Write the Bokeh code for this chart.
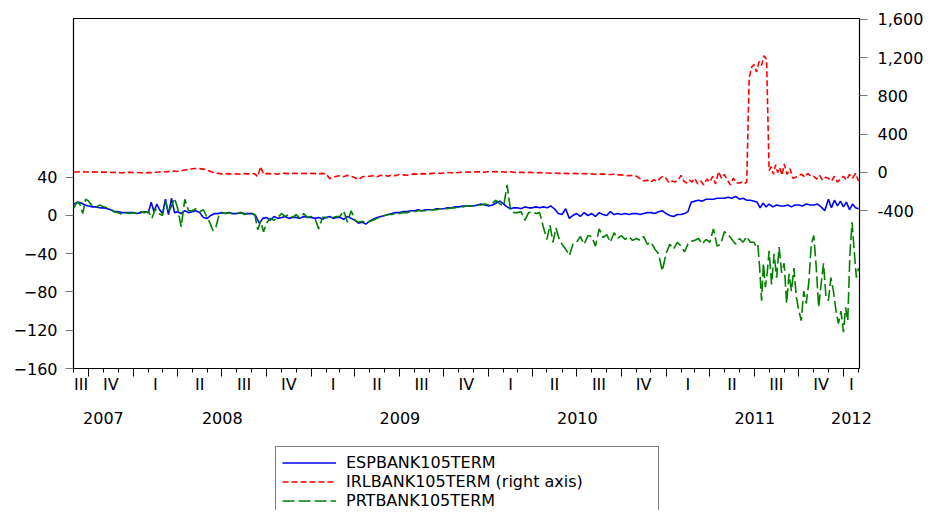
import pandas as pd
from bokeh.plotting import figure
from bokeh.layouts import column
from bokeh.models import (Range1d, LinearAxis, FixedTicker, CustomJSTickFormatter,
                          NumeralTickFormatter, Legend, LegendItem)
from bokeh.embed import file_html
from bokeh.resources import INLINE

# ---------------- data (grouped by month) ----------------
months = [str(m) for m in pd.period_range("2007-09", "2012-02", freq="M")]

esp = [
    [12, 14, 13, 11], [10, 9, 9, 8], [8, 7, 6, 4], [4, 3, 3, 3],                 # 2007
    [3, 2, 3, 4], [3, 14, 4, 12, 6], [2, 17, 1, 18, 3], [4, 2, 5, 3],             # 2008
    [4, 5, 3, -2], [-3, 0, 2, 2], [3, 2, 3, 2], [2, 3, 2, 2],
    [2, 0, -8, -3], [-2, -5, -1, -3], [-2, -1, -3, -2], [-2, -3, -1, -2],
    [-2, -3, -2, -4], [-2, -1, -3, -2], [-2, -4, -1, -3], [-5, -8, -7, -9],       # 2009
    [-6, -4, -2, -1], [0, 1, 2, 3], [3, 4, 4, 5], [5, 6, 5, 6],
    [6, 6, 7, 7], [7, 8, 8, 9], [9, 10, 10, 10], [10, 11, 12, 11],
    [10, 11, 13, 15], [12, 9, 7, 8], [8, 7, 9, 8], [8, 9, 8, 9],                  # 2010
    [8, 10, 7, 2], [1, 7, -3, 0], [2, -1, 3, 0], [2, -1, 3, 1],
    [0, 4, 1, 2], [1, 2, 1, 2], [2, 1, 2, 3], [3, 2, 4, 5],
    [2, 0, -1, 1], [1, 2, 4, 14], [15, 16, 15, 17], [17, 17, 18, 18],             # 2011
    [18, 19, 18, 20], [17, 18, 16, 16], [15, 14, 8, 13, 9], [12, 9, 11, 10],
    [10, 11, 9, 11], [11, 10, 12, 11], [11, 12, 9, 5], [17, 8, 16, 10, 15],
    [9, 14, 6, 12, 8], [7],                                                       # 2012
]

irl = [
    [5, 5, 8, 6], [5, 6, 5, 3], [4, 2, 0, 2], [0, -5, 0, 2],
    [-2, 0, -3, -5], [0, -3, 2, 5], [8, 5, 12, 15], [10, 18, 25, 30],
    [38, 42, 40, 35], [25, 10, -5, -10], [-15, -12, -15, -18], [-15, -18, -12, -15],
    [-10, -15, -45, 60, -20], [-10, -15, -12, -18], [-8, -10, -12, -10], [-10, -12, -8, -12],
    [-10, -12, -14, -10], [-15, -65, -50, -40], [-35, -45, -30, -40], [-55, -75, -45, -40],
    [-40, -35, -45, -30], [-30, -40, -25, -35], [-20, -25, -30, -20], [-15, -20, -12, -15],
    [-12, -10, -8, -10], [-5, 0, -3, -5], [0, 3, 5, 2], [5, 8, 5, 3],
    [10, 8, 10, 6], [5, 3, 8, 2], [0, 3, -2, 2], [0, -5, -2, -3],
    [-5, -8, -5, -10], [-10, -8, -12, -10], [-12, -15, -12, -14], [-15, -18, -20, -15],
    [-20, -22, -18, -25], [-25, -30, -35, -30], [-40, -65, -90, -80], [-100, -75, -95, -60, -40],
    [-60, -110, -90, -100, -80], [-30, -90, -110, -80, -100], [-60, -120, -90, -130, -70],
    [-100, -40, -120, 10, -60], [-20, -80, -130, -60, -110], [-110, -100, -120, -100, 990, 1100],
    [1130, 1050, 1160, 1120, 1220, 1180], [20, 60, -20, 80, 0, 50, -30],
    [90, -20, 40, -60, -50], [-30, -20, -50, -10, -40], [-40, -70, -30, -80, -50],
    [-60, -90, -40, -100, -70], [-40, -80, -20, -60, -10], [-90],
]

prt = [
    [8, 14, 12, 2, 17], [15, 10, 9, 11], [9, 8, 6, 4], [3, 1, 3, 2],
    [3, 2, 4, 3], [4, -3, 7, 2], [0, 15, 3, 10, 18], [8, -12, 17, 5],
    [5, 7, 4, 6], [-2, -8, -16, -12, 0], [3, 2, 3, 1], [2, 3, 1, 2],
    [2, 1, -15, -6, -17], [-8, -3, -5, -2], [2, -1, 1, -2], [1, -3, 2, -2],
    [-1, -3, -14, -2], [-2, -3, -2, -1], [-1, 5, -7, 5], [-5, -7, -6, -8],
    [-6, -5, -3, -1], [0, 1, 1, 2], [2, 3, 3, 4], [4, 5, 5, 5],
    [6, 6, 6, 7], [7, 7, 8, 8], [9, 9, 10, 10], [10, 11, 11, 12],
    [11, 13, 16, 12], [10, 32, 6, 3], [3, 4, -5, 3], [4, 2, 3, -12],
    [-25, -10, -28, -13, -24], [-30, -35, -42, -30], [-28, -22, -30, -21], [-22, -32, -14, -23],
    [-20, -28, -18, -24], [-21, -25, -22, -26], [-24, -26, -22, -30], [-28, -35, -40, -58],
    [-40, -30, -35, -28], [-32, -38, -30, -27], [-26, -24, -30, -25], [-28, -14, -32, -30],
    [-17, -20, -25, -30], [-24, -28, -22, -28],
    [-28, -32, -30, -55, -89, -50, -75, -60], [-37, -72, -40, -65, -33, -60],
    [-50, -92, -61, -79, -55, -85], [-99, -110, -79, -92, -70, -30],
    [-21, -54, -96, -72, -50, -85], [-89, -65, -79, -99, -113, -100],
    [-122, -96, -110, -40, -7, -37, -65], [-55],
]

series_names = ["ESPBANK105TERM", "IRLBANK105TERM (right axis)", "PRTBANK105TERM"]
left_ticks = [-160, -120, -80, -40, 0, 40]
right_ticks = [-400, 0, 400, 800, 1200, 1600]
roman = ["I", "II", "III", "IV"]
x_start, x_end = "2007-08-31", "2012-02-03"

EPOCH = pd.Timestamp("1970-01-01")


def ms(t):
    return (pd.Timestamp(t) - EPOCH) / pd.Timedelta("1ms")


def expand(groups):
    xs, ys = [], []
    for m, vals in zip(months, groups):
        start = pd.Timestamp(m + "-01")
        end = start + pd.offsets.MonthBegin(1)
        n = len(vals)
        for i, v in enumerate(vals):
            xs.append(ms(start + (end - start) * (i / n)))
            ys.append(v)
    return xs, ys


FONT = "DejaVu Sans"
W = 929
STYLES = [dict(line_color="#0000FF", line_width=1.6),
          dict(line_color="#FF0000", line_width=1.6, line_dash="6 3"),
          dict(line_color="#008000", line_width=1.6, line_dash="12 4")]

x1, y1 = expand(esp)
x2, y2 = expand(irl)
x3, y3 = expand(prt)
XY = [(x1, y1), (x2, y2), (x3, y3)]

# ---------------- main chart ----------------
PH = 446
p = figure(width=W, height=PH, output_backend="svg", toolbar_location=None,
           x_range=Range1d(ms(x_start), ms(x_end)), y_range=Range1d(-160, 206),
           x_axis_location=None, y_axis_location="left",
           min_border_left=73, min_border_right=70, min_border_top=18, min_border_bottom=PH - 368)
p.grid.visible = False
p.outline_line_color = "black"
p.outline_line_width = 1.2
p.background_fill_color = "white"
p.border_fill_color = "white"
p.extra_y_ranges = {"right": Range1d(-2050, 1610)}

p.line(x1, y1, **STYLES[0])
p.line(x2, y2, y_range_name="right", **STYLES[1])
p.line(x3, y3, **STYLES[2])

ya = p.yaxis[0]
ya.ticker = FixedTicker(ticks=left_ticks)
ya.axis_line_color = None
ya.major_tick_out = 8
ya.major_tick_in = 0
ya.major_tick_line_color = "#777777"
ya.minor_tick_line_color = None
ya.major_label_standoff = 8
ya.major_label_text_font = FONT
ya.major_label_text_font_size = "16px"
ya.major_label_text_color = "black"

yr = LinearAxis(y_range_name="right", ticker=FixedTicker(ticks=right_ticks),
                formatter=NumeralTickFormatter(format="0,0"),
                axis_line_color=None, major_tick_out=8, major_tick_in=0,
                major_tick_line_color="#777777", minor_tick_line_color=None,
                major_label_standoff=10, major_label_text_font=FONT,
                major_label_text_font_size="16px", major_label_text_color="black")
p.add_layout(yr, "right")

month_starts = pd.date_range("2007-09-01", "2012-02-01", freq="MS")
q_starts = [ms(d) for d in month_starts if d.month in (1, 4, 7, 10)]
m_starts = [ms(d) for d in month_starts]
xa = LinearAxis(ticker=FixedTicker(ticks=q_starts, minor_ticks=m_starts),
                formatter=CustomJSTickFormatter(code="return ''"),
                axis_line_color=None, major_tick_out=8, major_tick_in=0,
                minor_tick_out=4, minor_tick_in=0,
                major_tick_line_color="black", minor_tick_line_color="black",
                major_label_standoff=0, major_label_text_font_size="0px")
p.add_layout(xa, "below")

lo, hi = pd.Timestamp(x_start), pd.Timestamp(x_end)
q_mid, q_lab = [], []
for qq in pd.period_range("2007Q3", "2012Q1", freq="Q"):
    a = max(qq.start_time, lo)
    b = min(qq.end_time, hi)
    q_mid.append(ms(a + (b - a) / 2))
    q_lab.append(roman[qq.quarter - 1])

y_mid, y_lab = [], []
for yr_ in range(2007, 2013):
    a = max(pd.Timestamp(f"{yr_}-01-01"), lo)
    b = min(pd.Timestamp(f"{yr_ + 1}-01-01"), hi)
    y_mid.append(ms(a + (b - a) / 2))
    y_lab.append(str(yr_))

JS = """
let best = 0, bd = Infinity;
for (let i = 0; i < pos.length; i++) { const d = Math.abs(pos[i] - tick); if (d < bd) { bd = d; best = i; } }
return lab[best];
"""
xb = LinearAxis(ticker=FixedTicker(ticks=q_mid),
                formatter=CustomJSTickFormatter(args=dict(pos=q_mid, lab=q_lab), code=JS),
                axis_line_color=None, major_tick_line_color=None, minor_tick_line_color=None,
                major_label_standoff=-8, major_label_text_font=FONT,
                major_label_text_font_size="16px", major_label_text_color="black")
p.add_layout(xb, "below")

xc = LinearAxis(ticker=FixedTicker(ticks=y_mid),
                formatter=CustomJSTickFormatter(args=dict(pos=y_mid, lab=y_lab), code=JS),
                axis_line_color=None, major_tick_line_color=None, minor_tick_line_color=None,
                major_label_standoff=9, major_label_text_font=FONT,
                major_label_text_font_size="16px", major_label_text_color="black")
p.add_layout(xc, "below")

# ---------------- legend strip under the chart ----------------
# (its frame is aligned with the chart's frame: x from 73 to 859)
LH = 510 - PH
q = figure(width=W, height=LH, output_backend="svg", toolbar_location=None,
           x_range=Range1d(0, 1), y_range=Range1d(0, 1),
           x_axis_location=None, y_axis_location=None, min_border=0)
q.grid.visible = False
q.outline_line_color = None
q.background_fill_color = "white"
q.border_fill_color = "white"
# the series drawn again here fall outside this strip's ranges; they only supply the keys
keys = [q.line(xs, ys, **s) for (xs, ys), s in zip(XY, STYLES)]

LEG_H = 6 + 3 * 19 + 6
legend = Legend(items=[LegendItem(label=n, renderers=[r]) for n, r in zip(series_names, keys)],
                location=(275 - 73, LH - 2 - LEG_H), orientation="vertical",
                border_line_color="black", border_line_width=1,
                background_fill_color="white", background_fill_alpha=1.0,
                label_text_font=FONT, label_text_font_size="16px", label_text_color="black",
                glyph_width=54, glyph_height=19, label_height=19, spacing=0,
                padding=6, margin=0, label_standoff=10, label_width=306)
q.add_layout(legend)

open("out.html", "w").write(file_html(column(p, q, spacing=0), INLINE))
